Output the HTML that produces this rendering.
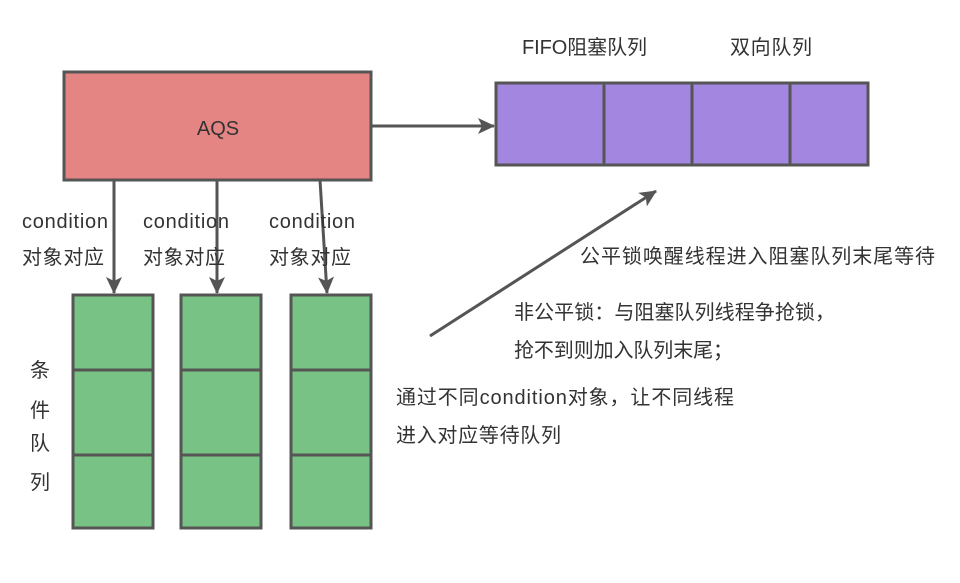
<!DOCTYPE html>
<html><head><meta charset="utf-8"><style>
body{margin:0;background:#fff;}
svg text{font-family:"Liberation Sans","Noto Sans CJK SC",sans-serif;font-size:20px;fill:#333;}
</style></head><body>
<svg width="960" height="578" xmlns="http://www.w3.org/2000/svg">
<defs>
<marker id="b" markerWidth="18" markerHeight="18" refX="16" refY="9" orient="auto" markerUnits="userSpaceOnUse"><path d="M0,1 L17,9 L0,17 L4,9 Z" fill="#555"/></marker></defs>
<rect x="64" y="72" width="307" height="108" fill="#e48483" stroke="#555" stroke-width="3"/>
<text x="218" y="135" text-anchor="middle">AQS</text>
<rect x="496" y="83" width="372" height="82" fill="#a386e0" stroke="#555" stroke-width="3"/>
<line x1="604" y1="83" x2="604" y2="165" stroke="#555" stroke-width="3"/>
<line x1="692" y1="83" x2="692" y2="165" stroke="#555" stroke-width="3"/>
<line x1="790" y1="83" x2="790" y2="165" stroke="#555" stroke-width="3"/>
<text x="522" y="54" textLength="125">FIFO阻塞队列</text>
<text x="730" y="54" textLength="82">双向队列</text>
<line x1="372" y1="126" x2="494" y2="126" stroke="#555" stroke-width="3" marker-end="url(#b)"/>
<line x1="114" y1="180" x2="114" y2="293" stroke="#555" stroke-width="3" marker-end="url(#b)"/>
<line x1="217" y1="180" x2="217" y2="293" stroke="#555" stroke-width="3" marker-end="url(#b)"/>
<line x1="320" y1="180" x2="327" y2="293" stroke="#555" stroke-width="3" marker-end="url(#b)"/>
<line x1="430" y1="336" x2="656" y2="191" stroke="#555" stroke-width="3" marker-end="url(#b)"/>
<g fill="#77c284" stroke="#555" stroke-width="3">
<rect x="73" y="295" width="80" height="233"/><rect x="181" y="295" width="80" height="233"/><rect x="291" y="295" width="80" height="233"/>
</g>
<g stroke="#555" stroke-width="3">
<line x1="73" y1="370" x2="153" y2="370"/><line x1="73" y1="455" x2="153" y2="455"/>
<line x1="181" y1="370" x2="261" y2="370"/><line x1="181" y1="455" x2="261" y2="455"/>
<line x1="291" y1="370" x2="371" y2="370"/><line x1="291" y1="455" x2="371" y2="455"/>
</g>
<text x="22" y="228" textLength="86">condition</text><text x="22" y="264" textLength="82">对象对应</text>
<text x="143" y="228" textLength="86">condition</text><text x="143" y="264" textLength="82">对象对应</text>
<text x="269" y="228" textLength="86">condition</text><text x="269" y="264" textLength="82">对象对应</text>
<text x="30" y="377">条</text><text x="30" y="417">件</text><text x="30" y="450">队</text><text x="30" y="489">列</text>
<text x="580" y="263" textLength="355">公平锁唤醒线程进入阻塞队列末尾等待</text>
<text x="514" y="319" textLength="321">非公平锁：与阻塞队列线程争抢锁，</text>
<text x="514" y="357" textLength="219">抢不到则加入队列末尾；</text>
<text x="396" y="404" textLength="338">通过不同condition对象，让不同线程</text>
<text x="396" y="442" textLength="165">进入对应等待队列</text>
</svg>
</body></html>
